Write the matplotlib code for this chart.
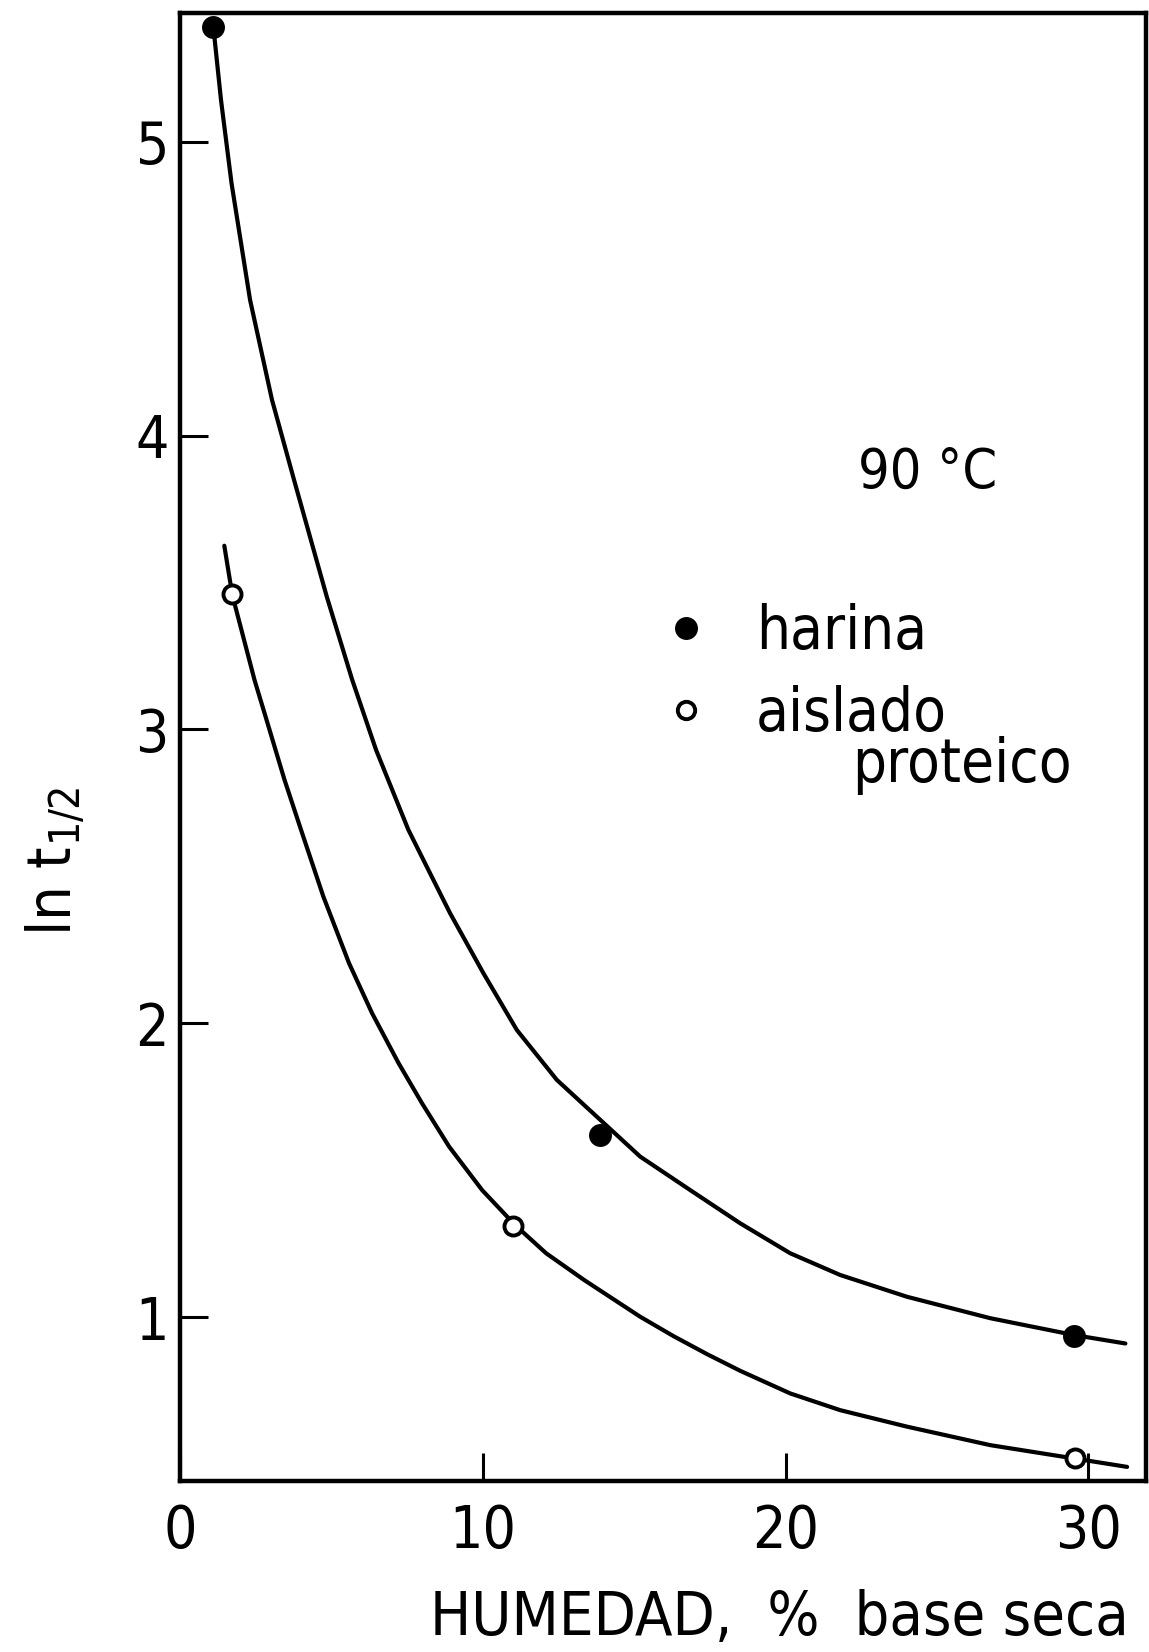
import matplotlib
matplotlib.use("Agg")
import matplotlib.pyplot as plt
from matplotlib.lines import Line2D

plt.rcParams['font.family'] = ['DejaVu Sans']
plt.rcParams['font.stretch'] = 'condensed'
plt.rcParams['mathtext.fontset'] = 'custom'
plt.rcParams['mathtext.rm'] = 'DejaVu Sans:stretch=condensed'

# measured points
harina_x = [1.10, 13.87, 29.51]
harina_y = [5.39, 1.62, 0.935]
aislado_x = [1.73, 11.01, 29.57]
aislado_y = [3.46, 1.31, 0.52]

# fitted curves as drawn in the figure
harina_curve_x = [1.100, 1.354, 1.701, 2.313, 3.039, 3.766, 4.846, 5.682, 6.475,
                  7.542, 8.259, 8.920, 10.020, 11.123, 12.445, 15.197, 16.849,
                  18.500, 20.152, 21.804, 24.007, 26.759, 29.511, 31.219]
harina_curve_y = [5.392, 5.142, 4.859, 4.462, 4.121, 3.849, 3.452, 3.170, 2.930,
                  2.658, 2.510, 2.374, 2.170, 1.977, 1.807, 1.546, 1.432,
                  1.319, 1.217, 1.143, 1.069, 0.996, 0.939, 0.910]
aislado_curve_x = [1.463, 1.728, 2.461, 2.792, 3.452, 3.997, 4.734, 5.583, 6.343,
                   7.218, 7.995, 8.887, 9.977, 11.067, 12.091, 13.347, 15.197,
                   16.297, 17.400, 18.500, 20.152, 21.804, 24.007, 26.759,
                   29.511, 31.276]
aislado_curve_y = [3.625, 3.457, 3.168, 3.055, 2.828, 2.658, 2.431, 2.204, 2.034,
                   1.864, 1.727, 1.580, 1.432, 1.313, 1.217, 1.126, 1.001,
                   0.935, 0.874, 0.817, 0.740, 0.683, 0.627, 0.564,
                   0.519, 0.490]

xticks = [0, 10, 20, 30]
yticks = [1, 2, 3, 4, 5]

W, H = 1149, 1652
fig = plt.figure(figsize=(W / 100, H / 100), dpi=100)
ax = fig.add_axes([180 / W, 1 - 1481 / H, (1146 - 180) / W, (1481 - 13) / H])

ax.plot(harina_curve_x, harina_curve_y, color='black', lw=3, zorder=2,
        solid_joinstyle='round', solid_capstyle='round')
ax.plot(aislado_curve_x, aislado_curve_y, color='black', lw=3, zorder=2,
        solid_joinstyle='round', solid_capstyle='round')
ax.plot(harina_x, harina_y, 'o', color='black', ms=15.5, zorder=3, clip_on=False)
ax.plot(aislado_x, aislado_y, 'o', mfc='white', mec='black', ms=13, mew=2.8,
        zorder=3, clip_on=False)

ax.set_xlim(0, 31.9)
ax.set_ylim(0.442, 5.438)
ax.set_xticks(xticks)
ax.set_yticks(yticks)
ax.tick_params(direction='in', length=20, width=2.2, labelsize=42)
ax.tick_params(axis='x', pad=16)
ax.tick_params(axis='y', pad=8)
for sp in ax.spines.values():
    sp.set_linewidth(3.2)

ax.set_xlabel('HUMEDAD,  %  base seca', fontsize=44, va='center')
ax.xaxis.set_label_coords(0.621, -0.094)
ax.set_ylabel(r'$\mathregular{ln\ t_{1/2}}$', fontsize=44, va='center')
ax.yaxis.set_label_coords(-0.129, 0.4217)

fig.text(928 / W, 1 - 488 / H, '90 °C', fontsize=40, ha='center', va='baseline')

handles = [Line2D([], [], ls='none', marker='o', color='black', ms=15.5),
           Line2D([], [], ls='none', marker='o', mfc='white', mec='black',
                  ms=12.5, mew=2.8)]
ax.legend(handles, ['harina', 'aislado'], loc='upper left',
          bbox_to_anchor=(656 / W, 1 - 603 / H), bbox_transform=fig.transFigure,
          frameon=False, fontsize=43, borderpad=0, borderaxespad=0,
          handlelength=1.0, handletextpad=0.67, labelspacing=0.38, numpoints=1)
fig.text(852 / W, 1 - 782 / H, 'proteico', fontsize=43, ha='left', va='baseline')

fig.savefig('out.png', dpi=100)
